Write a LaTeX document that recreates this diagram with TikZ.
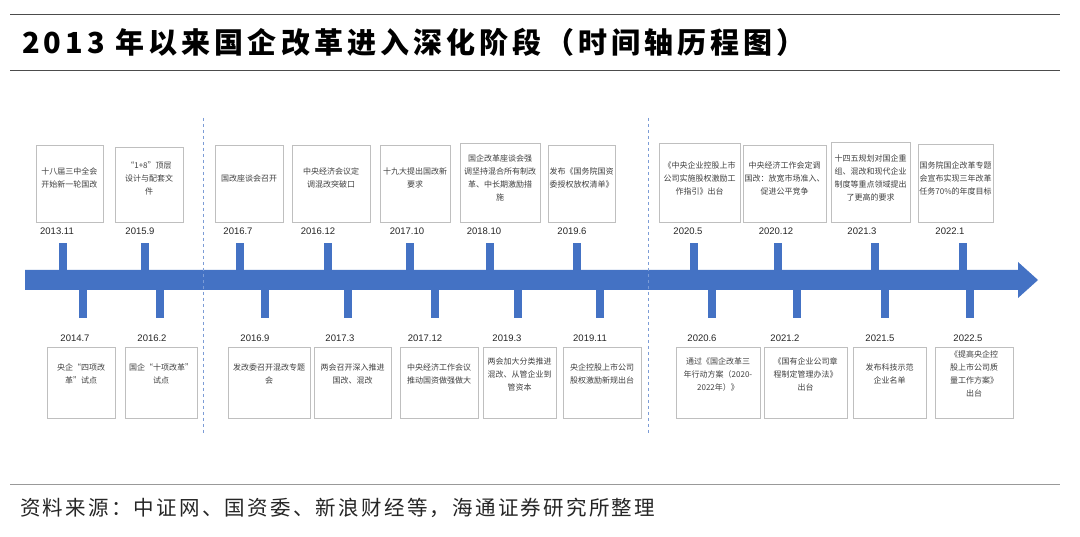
\documentclass[tikz,border=0pt]{standalone}
\usepackage{fontspec}
\setmainfont{Liberation Sans}
\newfontfamily\cjk{Noto Sans CJK SC}
\newfontfamily\cjktitle[LetterSpace=14]{Noto Sans CJK SC}
\newfontfamily\cjksrc[LetterSpace=11]{Noto Sans CJK SC}
\begin{document}
\begin{tikzpicture}[x=1pt,y=-1pt,
  box/.style={align=center,font=\cjk\fontsize{8}{13}\selectfont,text=black!75,inner sep=1pt},
  dt/.style={font=\fontsize{9.5}{11}\selectfont,text=black!85},
  tick/.style={fill=arr,draw=none}]
\definecolor{arr}{HTML}{4472C4}
\useasboundingbox (0,0) rectangle (1080,537);
\fill[white] (0,0) rectangle (1080,537);
\draw[black!70,line width=0.8pt] (10,14) -- (1060,14);
\draw[black!70,line width=0.8pt] (10,70) -- (1060,70);
\node[anchor=west,font=\cjktitle\bfseries\fontsize{29}{32}\selectfont,inner sep=0pt] (title) at (22,42) {2013 年以来国企改革进入深化阶段（时间轴历程图）};
\draw[black!40,line width=0.6pt] (10,484) -- (1060,484);
\node[anchor=west,font=\cjksrc\fontsize{20.5}{22}\selectfont,text=black!85,inner sep=0pt] (src) at (20,508) {资料来源：中证网、国资委、新浪财经等，海通证券研究所整理};
% arrow
\fill[arr] (25,270) -- (1018,270) -- (1018,262) -- (1038,280) -- (1018,298) -- (1018,290) -- (25,290) -- cycle;
\coordinate (arrowend) at (1038,280);
% dashed lines
\coordinate (d1a) at (203,118); \coordinate (d1b) at (203,435);
\coordinate (d2a) at (648,118); \coordinate (d2b) at (648,435);
\draw[arr!70,dashed,line width=0.8pt] (d1a) -- (d1b);
\draw[arr!70,dashed,line width=0.8pt] (d2a) -- (d2b);
\foreach \i/\l/\r/\t/\dx/\tx/\d/\txt in {
 a/36/103/145/57/63/2013.11/{十八届三中全会\\开始新一轮国改},
 b/115/183/147/140/145/2015.9/{“1+8”顶层\\设计与配套文\\件},
 c/215/283/145/238/240/2016.7/{国改座谈会召开},
 d/292/370/145/318/328/2016.12/{中央经济会议定\\调混改突破口},
 e/380/450/145/407/410/2017.10/{十九大提出国改新\\要求},
 f/460/540/143/484/490/2018.10/{国企改革座谈会强\\调坚持混合所有制改\\革、中长期激励措\\施},
 g/548/615/145/572/577/2019.6/{发布《国务院国资\\委授权放权清单》},
 h/659/740/143/688/694/2020.5/{《中央企业控股上市\\公司实施股权激励工\\作指引》出台},
 i/743/826/145/776/778/2020.12/{中央经济工作会定调\\国改：放宽市场准入、\\促进公平竞争},
 j/831/910/142/862/875/2021.3/{十四五规划对国企重\\组、混改和现代企业\\制度等重点领域提出\\了更高的要求},
 k/918/993/144/950/963/2022.1/{国务院国企改革专题\\会宣布实现三年改革\\任务70\%的年度目标}} {
  \draw[black!25,line width=0.6pt] (\l,\t) rectangle (\r,222);
  \node[box] (top\i) at ({(\l+\r)/2},178) {\txt};
  \node[dt] (topd\i) at (\dx,231) {\d};
  \fill[arr] ({\tx-4},243) rectangle ({\tx+4},271);
}
\foreach \i/\l/\r/\dx/\tx/\d/\txt in {
 a/47/115/75/83/2014.7/{央企“四项改\\革”试点},
 b/125/197/152/160/2016.2/{国企“十项改革”\\试点},
 c/228/310/255/265/2016.9/{发改委召开混改专题\\会},
 d/314/391/340/348/2017.3/{两会召开深入推进\\国改、混改},
 e/400/478/425/435/2017.12/{中央经济工作会议\\推动国资做强做大},
 f/483/556/507/518/2019.3/{两会加大分类推进\\混改、从管企业到\\管资本},
 g/563/641/590/600/2019.11/{央企控股上市公司\\股权激励新规出台},
 h/676/760/702/712/2020.6/{通过《国企改革三\\年行动方案（2020-\\2022年）》},
 i/764/847/785/797/2021.2/{《国有企业公司章\\程制定管理办法》\\出台},
 j/853/926/880/885/2021.5/{发布科技示范\\企业名单},
 k/935/1013/968/970/2022.5/{《提高央企控\\股上市公司质\\量工作方案》\\出台}} {
  \draw[black!25,line width=0.6pt] (\l,347) rectangle (\r,418);
  \node[box] (bot\i) at ({(\l+\r)/2},374) {\txt};
  \node[dt] (botd\i) at (\dx,338) {\d};
  \fill[arr] ({\tx-4},289) rectangle ({\tx+4},318);
}
\end{tikzpicture}
\end{document}
